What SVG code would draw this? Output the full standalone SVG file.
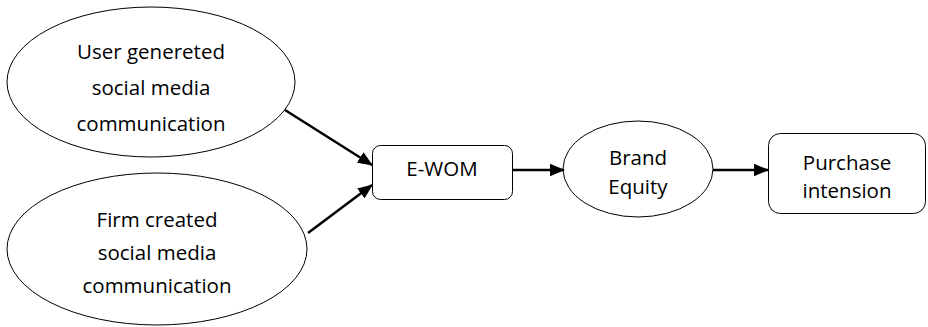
<svg xmlns="http://www.w3.org/2000/svg" width="928" height="327" viewBox="0 0 928 327">
<style>
.shape{fill:#fff;stroke:#000;stroke-width:1}
.lbl{font-family:"Open Sans","Liberation Sans",sans-serif;font-size:20.5px;fill:#000;text-anchor:middle}
.conn{stroke:#000;stroke-width:2.5;fill:none;marker-end:url(#ah)}
</style>
<defs>
<marker id="ah" markerWidth="6" markerHeight="5" refX="5.6" refY="2.5" orient="auto" markerUnits="strokeWidth">
<path d="M0,0 L6,2.5 L0,5 Z" fill="#000"/>
</marker>
</defs>
<g id="user-generated">
<ellipse class="shape" cx="151" cy="82" rx="144" ry="75"/>
<text class="lbl" x="151" y="59">User genereted</text>
<text class="lbl" x="151" y="95">social media</text>
<text class="lbl" x="151" y="131">communication</text>
</g>
<g id="firm-created">
<ellipse class="shape" cx="157" cy="249" rx="150" ry="76"/>
<text class="lbl" x="157" y="227">Firm created</text>
<text class="lbl" x="157" y="260">social media</text>
<text class="lbl" x="157" y="293">communication</text>
</g>
<g id="ewom">
<rect class="shape" x="372.5" y="145.5" width="140" height="54" rx="8"/>
<text class="lbl" x="442" y="176">E-WOM</text>
</g>
<g id="brand-equity">
<ellipse class="shape" cx="638" cy="169" rx="75" ry="48"/>
<text class="lbl" x="638" y="165">Brand</text>
<text class="lbl" x="638" y="194">Equity</text>
</g>
<g id="purchase">
<rect class="shape" x="768.5" y="133.5" width="157" height="80" rx="12"/>
<text class="lbl" x="847" y="170">Purchase</text>
<text class="lbl" x="847" y="198">intension</text>
</g>
<g id="connectors">
<line class="conn" x1="285" y1="110" x2="372" y2="165"/>
<line class="conn" x1="308" y1="233" x2="372" y2="185"/>
<line class="conn" x1="513" y1="170" x2="564" y2="170"/>
<line class="conn" x1="713" y1="170" x2="768" y2="170"/>
</g>
</svg>
